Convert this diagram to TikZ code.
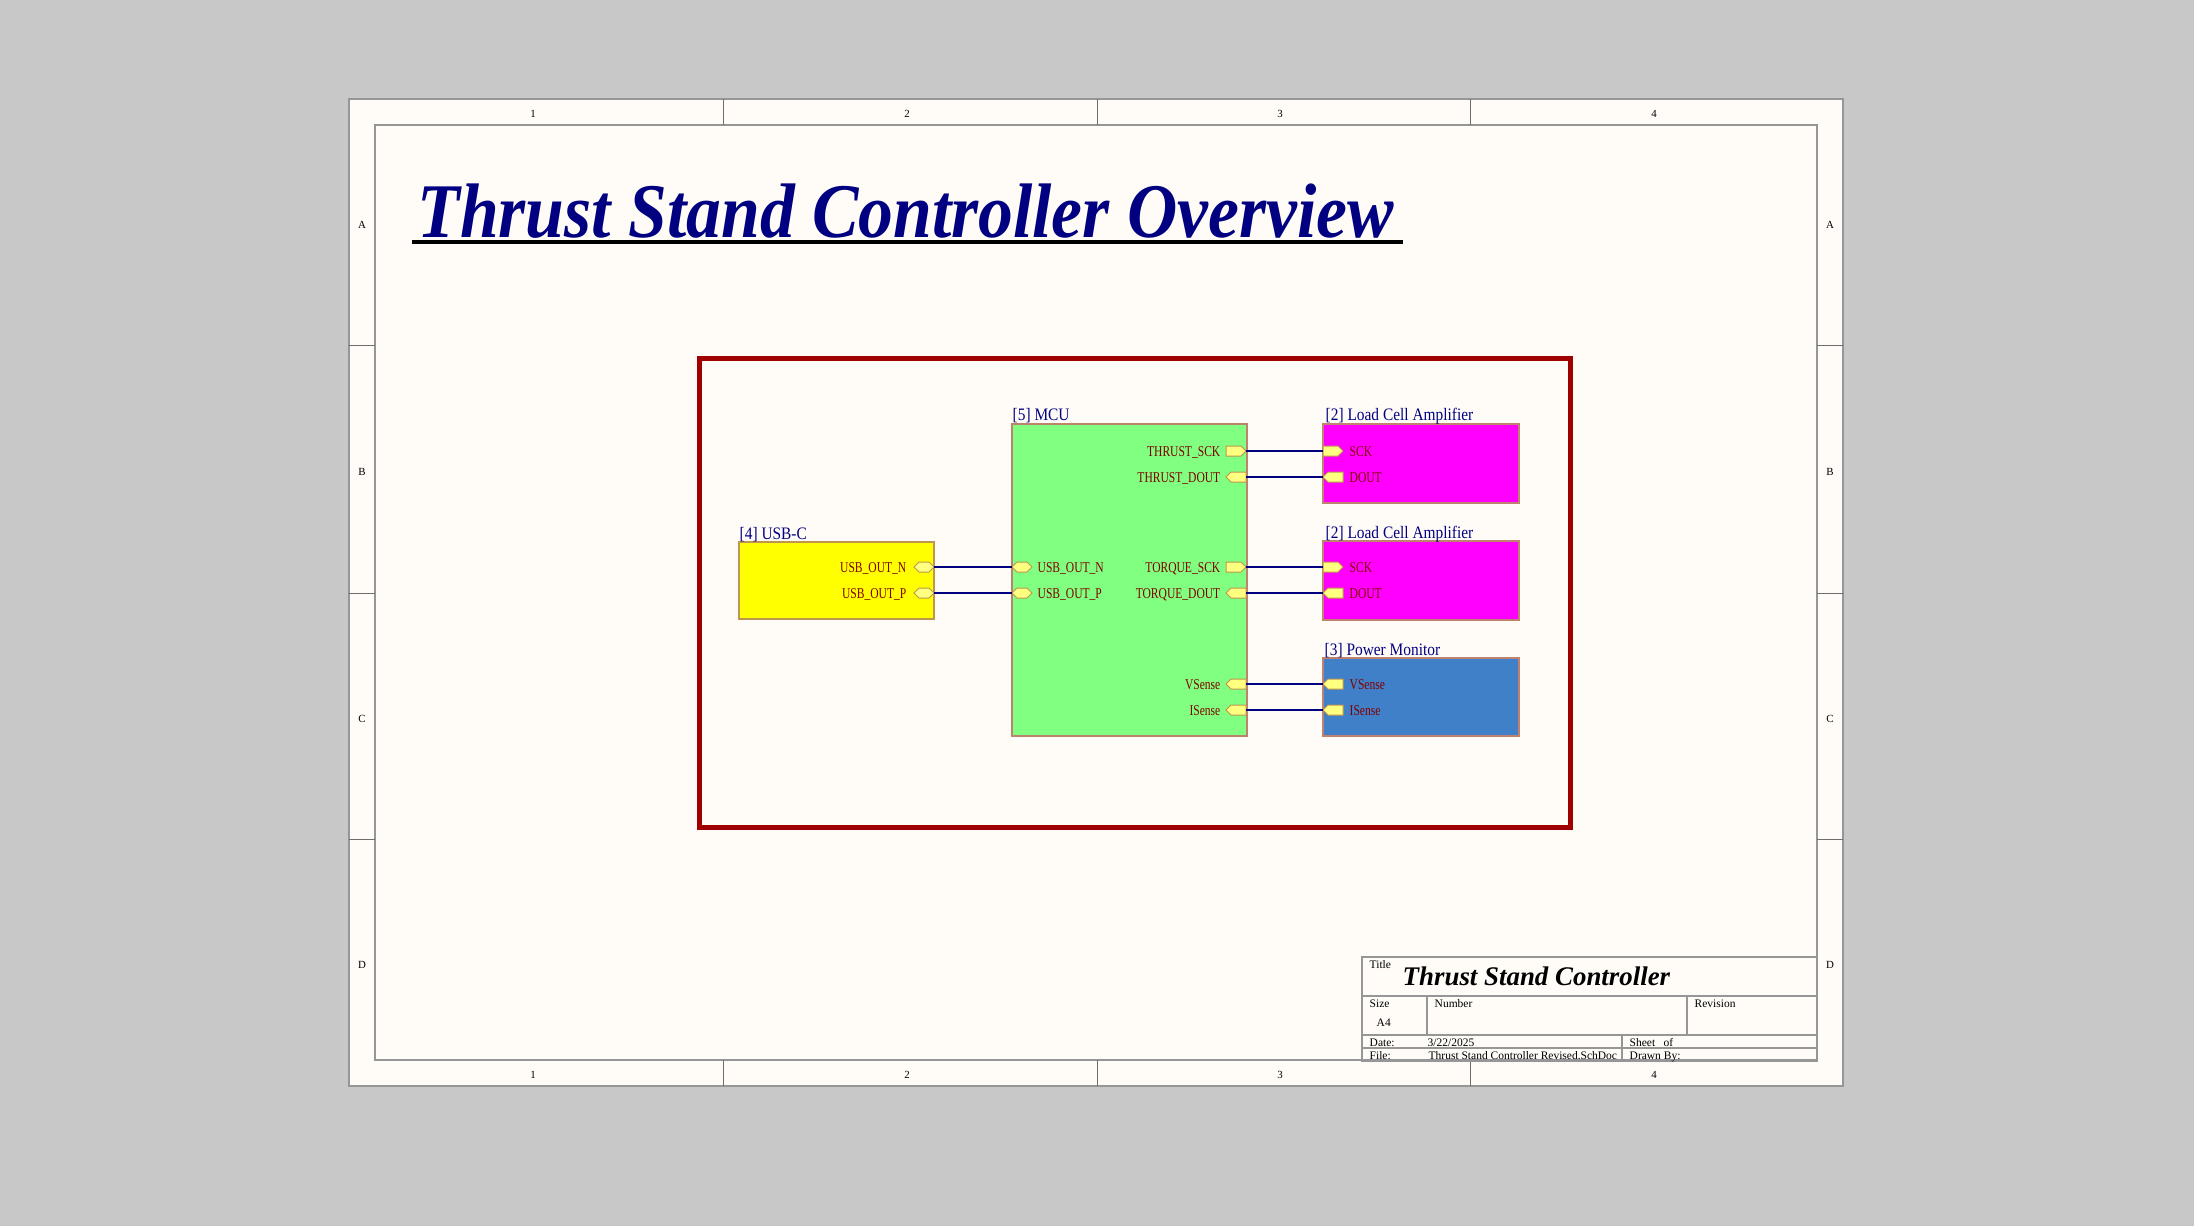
\documentclass[tikz,border=0pt]{standalone}
\usepackage{fontspec}
\setmainfont{Liberation Serif}
\newfontfamily\portfont[FakeStretch=0.77]{Liberation Serif}
\newfontfamily\sheetfont[FakeStretch=0.88]{Liberation Serif}
\newfontfamily\headfont[FakeStretch=0.9]{Liberation Serif}
\usetikzlibrary{shapes.symbols}

\definecolor{bggray}{RGB}{200,200,200}
\definecolor{sheetcream}{RGB}{255,252,248}
\definecolor{framegray}{RGB}{150,150,150}
\definecolor{zonegray}{RGB}{110,110,110}
\definecolor{navy}{RGB}{0,0,128}
\definecolor{darkred}{RGB}{128,0,0}
\definecolor{framered}{RGB}{160,0,0}
\definecolor{usbyellow}{RGB}{255,255,0}
\definecolor{mcugreen}{RGB}{128,255,128}
\definecolor{cellmagenta}{RGB}{255,0,255}
\definecolor{pwrblue}{RGB}{64,128,200}
\definecolor{portyellow}{RGB}{255,255,128}
\definecolor{porttan}{RGB}{190,150,80}
\definecolor{blkedge}{RGB}{190,130,110}

\begin{document}
\begin{tikzpicture}[x=0.1mm,y=-0.1mm,
  block/.style={draw=blkedge,line width=0.15mm,anchor=north west,inner sep=0,outer sep=0},
  port/.style={shape=signal,draw=porttan,fill=portyellow,line width=0.1mm,minimum width=2mm,minimum height=1mm,inner sep=0,outer sep=0},
  portlbl/.style={text=darkred,font=\portfont\fontsize{4.27}{5}\selectfont,inner sep=0},
  blklbl/.style={text=navy,font=\sheetfont\fontsize{4.98}{6}\selectfont,inner sep=0,anchor=base west},
  wire/.style={navy,line width=0.2mm},
  tbtext/.style={font=\fontsize{3.27}{4}\selectfont,inner sep=0,anchor=base west},
  zone/.style={font=\fontsize{3.1}{4}\selectfont,inner sep=0}]
\useasboundingbox (0,0) rectangle (2194,1226);
\fill[bggray] (0,0) rectangle (2194,1226);
\draw[framegray,line width=0.25mm,fill=sheetcream] (349,99) rectangle (1843,1086);
\draw[framegray,line width=0.2mm] (375,125) rectangle (1817,1060);
\foreach \x in {723,1097,1470} {
  \draw[zonegray,line width=0.1mm] (\x,99) -- (\x,125);
  \draw[zonegray,line width=0.1mm] (\x,1060) -- (\x,1086);
}
\foreach \y in {346,593,839} {
  \draw[zonegray,line width=0.1mm] (349,\y) -- (375,\y);
  \draw[zonegray,line width=0.1mm] (1817,\y) -- (1843,\y);
}
\foreach \n/\x in {1/533,2/907,3/1280,4/1654} {
  \node[zone] (zt\n) at (\x,114) {\n};
  \node[zone] (zb\n) at (\x,1075) {\n};
}
\foreach \r/\y in {A/225,B/472,C/719,D/965} {
  \node[zone] (zl\r) at (362,\y) {\r};
  \node[zone] (zr\r) at (1830,\y) {\r};
}

\node[anchor=base west,inner sep=0,text=navy,font=\headfont\bfseries\itshape\fontsize{22}{25}\selectfont] (title) at (417,238) {Thrust Stand Controller Overview};
\draw[line width=0.4mm] (412,242) -- (1403,242);

\draw[framered,line width=0.5mm] (699,359) rectangle (1570,827);

\node[block,fill=usbyellow,draw=porttan,minimum width=19.5mm,minimum height=7.7mm] (usbc) at (739,542) {};
\node[block,fill=mcugreen,minimum width=23.5mm,minimum height=31.2mm] (mcu) at (1012,424) {};
\node[block,fill=cellmagenta,minimum width=19.6mm,minimum height=7.9mm] (cellA) at (1323,424) {};
\node[block,fill=cellmagenta,minimum width=19.6mm,minimum height=7.9mm] (cellB) at (1323,541) {};
\node[block,fill=pwrblue,minimum width=19.6mm,minimum height=7.8mm] (pwr) at (1323,658) {};

\node[blklbl] (usbcname) at (739,539) {[4] USB-C};
\node[blklbl] (mcuname) at (1012,421) {[5] MCU};
\node[blklbl] (cellAname) at (1325,421) {[2] Load Cell Amplifier};
\node[blklbl] (cellBname) at (1325,538) {[2] Load Cell Amplifier};
\node[blklbl] (pwrname) at (1324,655) {[3] Power Monitor};

\node[port,signal to=east and west,anchor=east] (usbnA) at (934,567) {};
\node[port,signal to=east and west,anchor=east] (usbpA) at (934,593) {};
\node[port,signal to=east and west,anchor=west] (usbnB) at (1012,567) {};
\node[port,signal to=east and west,anchor=west] (usbpB) at (1012,593) {};
\node[port,signal to=east,anchor=east] (tsckA) at (1246,451) {};
\node[port,signal to=west,anchor=east] (tdoutA) at (1246,477) {};
\node[port,signal to=east,anchor=east] (qsckA) at (1246,567) {};
\node[port,signal to=west,anchor=east] (qdoutA) at (1246,593) {};
\node[port,signal to=west,anchor=east] (vsA) at (1246,684) {};
\node[port,signal to=west,anchor=east] (isA) at (1246,710) {};
\node[port,signal to=east,anchor=west] (tsckB) at (1323,451) {};
\node[port,signal to=west,anchor=west] (tdoutB) at (1323,477) {};
\node[port,signal to=east,anchor=west] (qsckB) at (1323,567) {};
\node[port,signal to=west,anchor=west] (qdoutB) at (1323,593) {};
\node[port,signal to=west,anchor=west] (vsB) at (1323,684) {};
\node[port,signal to=west,anchor=west] (isB) at (1323,710) {};

\node[portlbl,anchor=base east] (lusbnA) at (907,572) {USB\_OUT\_N};
\node[portlbl,anchor=base east] (lusbpA) at (907,598) {USB\_OUT\_P};
\node[portlbl,anchor=base west] (lusbnB) at (1037,572) {USB\_OUT\_N};
\node[portlbl,anchor=base west] (lusbpB) at (1037,598) {USB\_OUT\_P};
\node[portlbl,anchor=base east] (ltsckA) at (1221,456) {THRUST\_SCK};
\node[portlbl,anchor=base east] (ltdoutA) at (1221,482) {THRUST\_DOUT};
\node[portlbl,anchor=base east] (lqsckA) at (1221,572) {TORQUE\_SCK};
\node[portlbl,anchor=base east] (lqdoutA) at (1221,598) {TORQUE\_DOUT};
\node[portlbl,anchor=base east] (lvsA) at (1221,689) {VSense};
\node[portlbl,anchor=base east] (lisA) at (1221,715) {ISense};
\node[portlbl,anchor=base west] (ltsckB) at (1349,456) {SCK};
\node[portlbl,anchor=base west] (ltdoutB) at (1349,482) {DOUT};
\node[portlbl,anchor=base west] (lqsckB) at (1349,572) {SCK};
\node[portlbl,anchor=base west] (lqdoutB) at (1349,598) {DOUT};
\node[portlbl,anchor=base west] (lvsB) at (1349,689) {VSense};
\node[portlbl,anchor=base west] (lisB) at (1349,715) {ISense};

\draw[wire] (usbnA.east) -- (usbnB.west);
\draw[wire] (usbpA.east) -- (usbpB.west);
\draw[wire] (tsckA.east) -- (tsckB.west);
\draw[wire] (tdoutA.east) -- (tdoutB.west);
\draw[wire] (qsckA.east) -- (qsckB.west);
\draw[wire] (qdoutA.east) -- (qdoutB.west);
\draw[wire] (vsA.east) -- (vsB.west);
\draw[wire] (isA.east) -- (isB.west);

\draw[framegray,line width=0.2mm] (1362,957) rectangle (1817,1061);
\draw[framegray,line width=0.2mm] (1362,996) -- (1817,996);
\draw[framegray,line width=0.2mm] (1362,1035) -- (1817,1035);
\draw[framegray,line width=0.2mm] (1362,1048) -- (1817,1048);
\draw[framegray,line width=0.2mm] (1427,996) -- (1427,1035);
\draw[framegray,line width=0.2mm] (1687,996) -- (1687,1035);
\draw[framegray,line width=0.2mm] (1622,1035) -- (1622,1061);
\node[tbtext] (tbtitle) at (1369,968) {Title};
\node[anchor=base west,inner sep=0,font=\bfseries\itshape\fontsize{7.65}{9}\selectfont] (tbname) at (1402,985) {Thrust Stand Controller};
\node[tbtext] (tbsize) at (1369,1007) {Size};
\node[tbtext] (tbsizev) at (1376,1026) {A4};
\node[tbtext] (tbnum) at (1434,1007) {Number};
\node[tbtext] (tbrev) at (1694,1007) {Revision};
\node[tbtext] (tbdate) at (1369,1046) {Date:};
\node[tbtext] (tbdatev) at (1427,1046) {3/22/2025};
\node[tbtext] (tbsheet) at (1629,1046) {Sheet};
\node[tbtext] (tbof) at (1663,1046) {of};
\node[tbtext] (tbfile) at (1369,1059) {File:};
\node[tbtext] (tbfilev) at (1428,1059) {Thrust Stand Controller Revised.SchDoc};
\node[tbtext] (tbdrawn) at (1629,1059) {Drawn By:};
\end{tikzpicture}
\end{document}
